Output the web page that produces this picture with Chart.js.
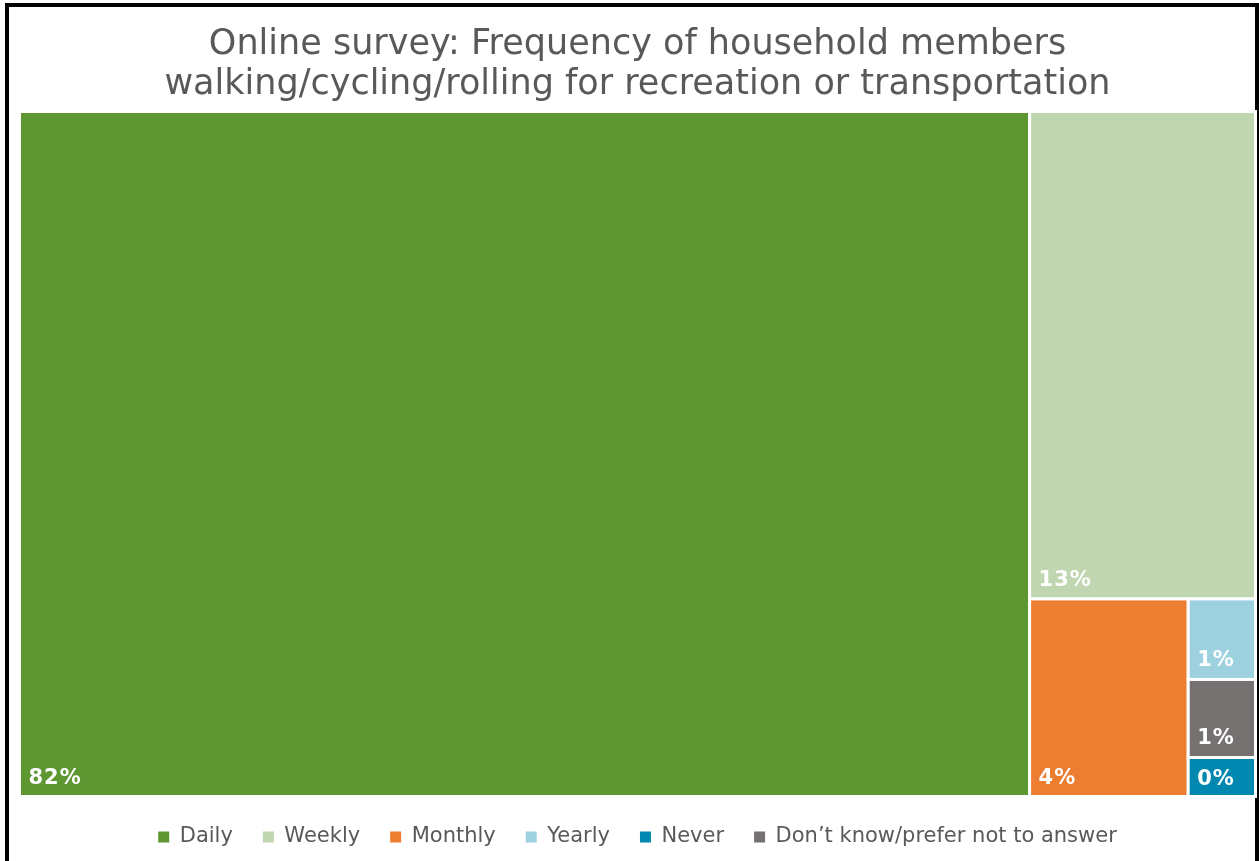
<!DOCTYPE html>
<html>
<head>
<meta charset="utf-8">
<script src="https://cdn.jsdelivr.net/npm/chart.js@4.4.1/dist/chart.umd.min.js"></script>
<style>
  html, body { margin: 0; padding: 0; background: #fff; }
  #frame { position: absolute; left: 5px; top: 3px; width: 1254px; height: 900px; border: 4px solid #000; box-sizing: border-box; }
  #wrap { position: absolute; left: 0; top: 0; width: 1259px; height: 861px; }
</style>
</head>
<body>
<div id="frame"></div>
<div id="wrap"><canvas id="chart"></canvas></div>
<script>
const categories = ["Daily", "Weekly", "Monthly", "Yearly", "Never", "Don\u2019t know/prefer not to answer"];
const shares = [81.7, 13.0, 3.7, 0.64, 0.31, 0.62];
const colors = ["#5E9732", "#C0D6B0", "#ED7D31", "#9DD1E0", "#0088B0", "#767171"];

// squarified treemap, worked out in data units but judged on pixel aspect
function squarify(items, rect, kx, ky) {
  const out = [];
  let rest = items.slice();
  let r = { ...rect };
  while (rest.length) {
    const wPx = r.w * kx, hPx = r.h * ky;
    const total = rest.reduce((s, d) => s + d.value, 0);
    const k = (wPx * hPx) / total;
    const side = Math.min(wPx, hPx);
    const worst = row => {
      const s = row.reduce((a, d) => a + d.value, 0) * k;
      const mx = Math.max(...row.map(d => d.value)) * k;
      const mn = Math.min(...row.map(d => d.value)) * k;
      return Math.max(side * side * mx / (s * s), (s * s) / (side * side * mn));
    };
    const row = [rest[0]];
    let i = 1;
    while (i < rest.length && worst([...row, rest[i]]) <= worst(row)) {
      row.push(rest[i]);
      i++;
    }
    rest = rest.slice(i);
    const rowSum = row.reduce((a, d) => a + d.value, 0);
    if (wPx >= hPx) {
      const cw = r.w * rowSum / total;
      let y = r.y;
      row.forEach(d => {
        const h = r.h * d.value / rowSum;
        out.push({ ...d, x: r.x, y, w: cw, h });
        y += h;
      });
      r = { x: r.x + cw, y: r.y, w: r.w - cw, h: r.h };
    } else {
      const rh = r.h * rowSum / total;
      let x = r.x;
      row.forEach(d => {
        const w = r.w * d.value / rowSum;
        out.push({ ...d, x, y: r.y, w, h: rh });
        x += w;
      });
      r = { x: r.x, y: r.y + rh, w: r.w, h: r.h - rh };
    }
  }
  return out;
}

const treemap = {
  id: "treemap",
  afterDatasetsDraw(chart) {
    const { ctx, chartArea, scales } = chart;
    const items = categories
      .map((c, i) => ({ label: c, value: shares[i], color: colors[i] }))
      .sort((a, b) => b.value - a.value);
    const cells = squarify(items, { x: 0, y: 0, w: 100, h: 100 },
      chartArea.width / 100, chartArea.height / 100);
    ctx.save();
    cells.forEach(c => {
      const x0 = scales.x.getPixelForValue(c.x);
      const x1 = scales.x.getPixelForValue(c.x + c.w);
      const y0 = scales.y.getPixelForValue(c.y);
      const y1 = scales.y.getPixelForValue(c.y + c.h);
      ctx.fillStyle = c.color;
      ctx.fillRect(x0, y0, x1 - x0, y1 - y0);
      ctx.strokeStyle = "#fff";
      ctx.lineWidth = 3;
      ctx.strokeRect(x0, y0, x1 - x0, y1 - y0);
      ctx.fillStyle = "#fff";
      ctx.font = "bold 21px 'DejaVu Sans'";
      ctx.letterSpacing = "1px";
      ctx.textBaseline = "alphabetic";
      ctx.fillText(Math.round(c.value) + "%", x0 + 9, Math.max(y1 - 13, (y0 + y1) / 2 + 8));
    });
    ctx.restore();
  }
};

new Chart(document.getElementById("chart"), {
  type: "scatter",
  data: {
    datasets: categories.map((c, i) => ({ label: c, data: [], backgroundColor: colors[i], borderWidth: 0 }))
  },
  options: {
    responsive: true,
    maintainAspectRatio: false,
    animation: false,
    layout: { padding: { left: 19.5, right: 3.5, top: 0, bottom: 3.5 } },
    scales: {
      x: { type: "linear", min: 0, max: 100, display: false },
      y: { type: "linear", min: 0, max: 100, reverse: true, display: false }
    },
    plugins: {
      title: {
        display: true,
        text: ["Online survey: Frequency of household members", "walking/cycling/rolling for recreation or transportation"],
        color: "#595959",
        font: { family: "'DejaVu Sans'", size: 35, weight: "normal", lineHeight: 1.143 },
        padding: { top: 25, bottom: 6.5 }
      },
      legend: {
        position: "bottom",
        labels: {
          color: "#595959",
          font: { family: "'DejaVu Sans'", size: 21 },
          boxWidth: 11,
          boxHeight: 11,
          padding: 30
        }
      },
      tooltip: { enabled: false }
    }
  },
  plugins: [treemap]
});
</script>
</body>
</html>
